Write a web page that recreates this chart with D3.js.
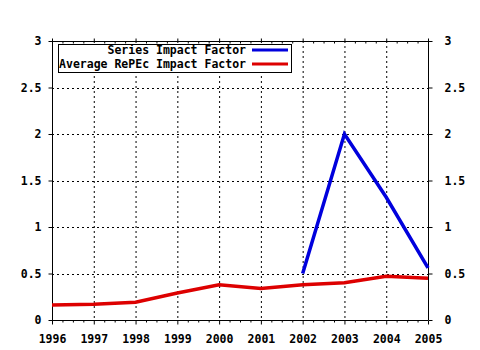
<!DOCTYPE html>
<html><head><meta charset="utf-8">
<script src="https://cdn.jsdelivr.net/npm/d3@7/dist/d3.min.js"></script>
<style>html,body{margin:0;padding:0;background:#fff;}svg text{font-family:"DejaVu Sans Mono",monospace;font-weight:bold;font-size:11.5px;fill:#000;}</style>
</head><body>
<script>
const years = [1996,1997,1998,1999,2000,2001,2002,2003,2004,2005];
const avgRepec = [0.16,0.17,0.19,0.29,0.38,0.34,0.38,0.40,0.47,0.45];
const seriesYears = [2002,2003,2004,2005];
const seriesIF = [0.50,2.00,1.32,0.56];
const yTicks = [0,0.5,1,1.5,2,2.5,3];
const yTickLabels = ["0","0.5","1","1.5","2","2.5","3"];
const legendLabels = ["Series Impact Factor","Average RePEc Impact Factor"];
const colors = ["#0000dd","#dd0000"];

const W=480,H=350, L=52, R=428, T=41, B=320;
const svg=d3.select("body").append("svg").attr("width",W).attr("height",H);
const x=d3.scaleLinear().domain([1996,2005]).range([L,R]);
const y=d3.scaleLinear().domain([0,3]).range([B,T]);

// grid
const g=svg.append("g");
g.selectAll("line.v").data(years.slice(1,-1)).enter().append("line")
 .attr("x1",d=>x(d)+0.5).attr("x2",d=>x(d)+0.5).attr("y1",T).attr("y2",B)
 .attr("stroke","#000").attr("stroke-dasharray","2,3").attr("stroke-width",1);
g.selectAll("line.h").data(yTicks.slice(1,-1)).enter().append("line")
 .attr("y1",d=>Math.round(y(d))+0.5).attr("y2",d=>Math.round(y(d))+0.5).attr("x1",L).attr("x2",R)
 .attr("stroke","#000").attr("stroke-dasharray","2,3").attr("stroke-width",1);

// minor ticks
const minor=[];
for(let i=0;i<years.length-1;i++){for(let k=1;k<4;k++)minor.push(years[i]+k/4);}

// axes
const fmt=(d)=>yTickLabels[yTicks.indexOf(d)];
const yl=svg.append("g").attr("transform",`translate(${L+0.5},0)`)
 .call(d3.axisLeft(y).tickValues(yTicks).tickFormat(fmt).tickSize(4).tickPadding(7));
const yr=svg.append("g").attr("transform",`translate(${R+0.5},0)`)
 .call(d3.axisRight(y).tickValues(yTicks).tickFormat(fmt).tickSize(4).tickPadding(12));
const xb=svg.append("g").attr("transform",`translate(0,${B+0.5})`)
 .call(d3.axisBottom(x).tickValues(years).tickFormat(d3.format("d")).tickSize(4).tickPadding(10));
const xbm=svg.append("g").attr("transform",`translate(0,${B+0.5})`)
 .call(d3.axisBottom(x).tickValues(minor).tickFormat("").tickSize(2));
const xt=svg.append("g").attr("transform",`translate(0,${T+0.5})`)
 .call(d3.axisTop(x).tickValues(years).tickFormat("").tickSize(3));
const xtm=svg.append("g").attr("transform",`translate(0,${T+0.5})`)
 .call(d3.axisBottom(x).tickValues(minor).tickFormat("").tickSize(2));
[yl,yr,xb,xbm,xt,xtm].forEach(a=>{a.select(".domain").attr("stroke","#000");a.selectAll("text").attr("font-family",null).attr("font-size",null);});
xbm.select(".domain").remove(); xtm.select(".domain").remove();
yl.select(".domain").attr("d",`M0,${T}V${B}`);
yr.select(".domain").attr("d",`M0,${T}V${B}`);
xb.select(".domain").attr("d",`M${L},0H${R}`);
xt.select(".domain").attr("d",`M${L},0H${R}`);
xb.selectAll("text").attr("dy","0.71em");

// lines
const line=d3.line().x(d=>x(d[0])).y(d=>y(d[1]));
svg.append("path").datum(years.map((d,i)=>[d,avgRepec[i]])).attr("d",line)
 .attr("fill","none").attr("stroke",colors[1]).attr("stroke-width",3.5);
svg.append("path").datum(seriesYears.map((d,i)=>[d,seriesIF[i]])).attr("d",line)
 .attr("fill","none").attr("stroke",colors[0]).attr("stroke-width",3.5);

// legend
const lg=svg.append("g");
lg.append("rect").attr("x",58.5).attr("y",44.5).attr("width",233).attr("height",28)
 .attr("fill","#fff").attr("stroke","#000");
legendLabels.forEach((t,i)=>{
  const cy=50+i*14;
  lg.append("text").attr("x",246).attr("y",cy).attr("dy","0.35em").attr("text-anchor","end").text(t);
  lg.append("line").attr("x1",252).attr("x2",288).attr("y1",cy).attr("y2",cy)
    .attr("stroke",colors[i]).attr("stroke-width",3);
});
</script>
</body></html>
